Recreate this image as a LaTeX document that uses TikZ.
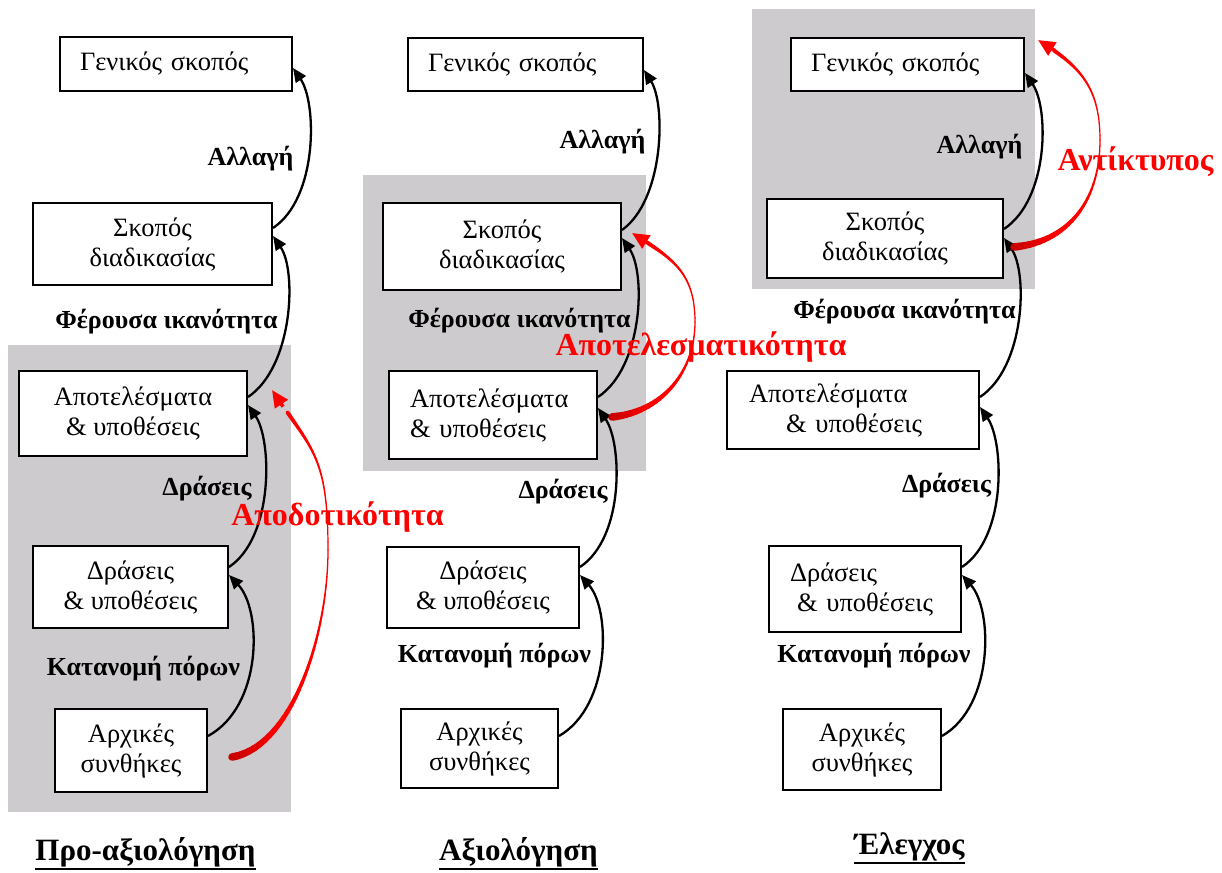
\documentclass[tikz,border=0pt]{standalone}
\usepackage{fontspec}
\setmainfont{Liberation Serif}[BoldFont={Liberation Serif Bold}]
\usetikzlibrary{arrows.meta,calc}
\definecolor{bggray}{RGB}{205,203,205}
\newcommand\boxfont{\fontsize{26.5}{30}\selectfont}
\newcommand\lblfont{\fontsize{26}{30}\selectfont\bfseries}
\newcommand\redfont{\fontsize{32}{36}\selectfont\bfseries}
\newcommand\ttlfont{\fontsize{31}{36}\selectfont\bfseries}
\tikzset{
  bx/.style={draw, fill=white, line width=2pt, font=\boxfont, inner sep=0pt, align=center},
  lbl/.style={font=\lblfont, inner sep=0pt, anchor=base},
  rlbl/.style={font=\redfont, text=red, inner sep=0pt, anchor=base},
  ttl/.style={font=\ttlfont, inner sep=0pt, anchor=base},
  blk/.style={line width=2.3pt, -{Triangle[length=14pt,width=12pt]}},
  redtip/.style={red, line width=3.5pt, -{Triangle[length=17pt,width=15pt]}},
  bgpanel/.style={fill=bggray, draw=none},
}
\newcommand\redarc[1]{%
  \foreach \i in {0,...,29}{%
    \pgfmathsetmacro\ta{\i/30}%
    \pgfmathsetmacro\tb{(\i+1)/30}%
    \pgfmathsetmacro\tm{(\i+0.5)/30}%
    \pgfmathsetmacro\ww{1.2+6.5*(1-\tm)*sqrt(1-\tm)}%
    \pgfmathtruncatemacro\dk{min(100,78+75*\tm)}%
    \begin{pgfscope}%
    \pgfsetlinewidth{\ww pt}%
    \pgfsetroundcap
    \pgfsetstrokecolor{red!\dk!black}%
    \pgfpathcurvebetweentime{\ta}{\tb}{\pgfpointanchor{#1T}{center}}{\pgfpointanchor{#1A}{center}}{\pgfpointanchor{#1B}{center}}{\pgfpointanchor{#1M}{center}}%
    \pgfusepath{stroke}%
    \end{pgfscope}%
  }%
  \foreach \i in {0,...,29}{%
    \pgfmathsetmacro\ta{0.86*\i/30}%
    \pgfmathsetmacro\tb{0.86*(\i+1)/30}%
    \pgfmathsetmacro\tm{(\i+0.5)/30}%
    \pgfmathsetmacro\ww{1.2+2.8*\tm*\tm}%
    \begin{pgfscope}%
    \pgfsetlinewidth{\ww pt}%
    \pgfsetroundcap
    \pgfsetstrokecolor{red}%
    \pgfpathcurvebetweentime{\ta}{\tb}{\pgfpointanchor{#1M}{center}}{\pgfpointanchor{#1C}{center}}{\pgfpointanchor{#1D}{center}}{\pgfpointanchor{#1H}{center}}%
    \pgfusepath{stroke}%
    \end{pgfscope}%
  }%
  \draw[redtip] ($(#1H)!20pt!(#1D)$) -- (#1H);
}
\begin{document}
\begin{tikzpicture}[x=1pt,y=-1pt]
\useasboundingbox (0,0) rectangle (1222,872);
\fill[white] (0,0) rectangle (1222,872);
% grey panels
\path[bgpanel] (8,345) rectangle (291,812);
\path[bgpanel] (363,175) rectangle (646,471);
\path[bgpanel] (752,9) rectangle (1035,289);

% column 1
\node[bx, inner xsep=20pt, text width=192pt, align=left, minimum height=54pt] (g1) at (176,64) {Γενικός σκοπός};
\node[bx, minimum width=239pt, minimum height=82pt] (s1) at (152.5,244) {Σκοπός\\διαδικασίας};
\node[bx, minimum width=228pt, minimum height=85pt] (r1) at (133,413.5) {Αποτελέσματα\\\& υποθέσεις};
\node[bx, minimum width=195pt, minimum height=82pt] (d1) at (130.5,587) {Δράσεις\\\& υποθέσεις};
\node[bx, minimum width=152pt, minimum height=83pt] (i1) at (131,750.5) {Αρχικές\\συνθήκες};

% column 2
\node[bx, inner xsep=20pt, text width=195pt, align=left, minimum height=53pt] (g2) at (525.5,64.5) {Γενικός σκοπός};
\node[bx, minimum width=238pt, minimum height=87pt] (s2) at (502,246.5) {Σκοπός\\διαδικασίας};
\node[bx, inner xsep=21pt, text width=166pt, align=left, minimum height=88pt] (r2) at (493,415) {Αποτελέσματα\\\& υποθέσεις};
\node[bx, minimum width=192pt, minimum height=81pt] (d2) at (483,587.5) {Δράσεις\\\& υποθέσεις};
\node[bx, minimum width=157pt, minimum height=79pt] (i2) at (479.5,748.5) {Αρχικές\\συνθήκες};

% column 3
\node[bx, inner xsep=20pt, text width=193pt, align=left, minimum height=53pt] (g3) at (907.5,64.5) {Γενικός σκοπός};
\node[bx, minimum width=236pt, minimum height=79pt] (s3) at (885,238.5) {Σκοπός\\διαδικασίας};
\node[bx, inner xsep=22pt, text width=208pt, align=left, minimum height=78pt] (r3) at (853,410) {Αποτελέσματα\\\hspace*{37pt}\& υποθέσεις};
\node[bx, inner xsep=21pt, text width=150pt, align=left, minimum height=86pt] (d3) at (865,589) {Δράσεις\\\hspace*{7pt}\& υποθέσεις};
\node[bx, minimum width=158pt, minimum height=81pt] (i3) at (862,749.5) {Αρχικές\\συνθήκες};

% black arrows column 1
\draw[blk] ([yshift=16pt]s1.east) .. controls +(45,-30) and +(24,35) .. ([yshift=-4pt]g1.east);
\draw[blk] ([yshift=16.5pt]r1.east) .. controls +(45,-30) and +(24,35) .. ([yshift=8pt]s1.east);
\draw[blk] ([yshift=20pt]d1.east) .. controls +(45,-30) and +(24,35) .. ([yshift=8.5pt]r1.east);
\draw[blk] ([yshift=14.5pt]i1.east) .. controls +(55,-30) and +(33,35) .. ([yshift=12pt]d1.east);
% column 2
\draw[blk] ([yshift=16.5pt]s2.east) .. controls +(42,-30) and +(22,35) .. ([yshift=-5.5pt]g2.east);
\draw[blk] ([yshift=18pt]r2.east) .. controls +(45,-30) and +(24,35) .. ([yshift=8.5pt]s2.east);
\draw[blk] ([yshift=20.5pt]d2.east) .. controls +(45,-30) and +(24,35) .. ([yshift=7pt]r2.east);
\draw[blk] ([yshift=12.5pt]i2.east) .. controls +(52,-30) and +(31,35) .. ([yshift=12.5pt]d2.east);
% column 3
\draw[blk] ([yshift=9.5pt]s3.east) .. controls +(45,-30) and +(24,35) .. ([yshift=-8.5pt]g3.east);
\draw[blk] ([yshift=13pt]r3.east) .. controls +(45,-30) and +(24,35) .. ([yshift=0.5pt]s3.east);
\draw[blk] ([yshift=22pt]d3.east) .. controls +(45,-30) and +(24,35) .. ([yshift=3pt]r3.east);
\draw[blk] ([yshift=13.5pt]i3.east) .. controls +(52,-30) and +(31,35) .. ([yshift=14pt]d3.east);

% red arrows
\coordinate (pT) at (232,757); \coordinate (pA) at (292,747); \coordinate (pB) at (328,635);
\coordinate (pM) at (328,550); \coordinate (pC) at (328,455); \coordinate (pD) at (312,450);
\coordinate (pH) at (272,390);
\coordinate (qT) at (612,417); \coordinate (qA) at (662,412); \coordinate (qB) at (695,372);
\coordinate (qM) at (695,322); \coordinate (qC) at (695,272); \coordinate (qD) at (672,258);
\coordinate (qH) at (632,233);
\coordinate (wT) at (1014,247); \coordinate (wA) at (1069,242); \coordinate (wB) at (1100,200);
\coordinate (wM) at (1100,140); \coordinate (wC) at (1100,85); \coordinate (wD) at (1078,65);
\coordinate (wH) at (1038,40);
\redarc{p}
\redarc{q}
\redarc{w}

% labels
\node[lbl] (la1) at (250.5,165) {Αλλαγή};
\node[lbl] (lf1) at (166.5,328) {Φέρουσα ικανότητα};
\node[lbl] (ld1) at (207,495) {Δράσεις};
\node[lbl] (lk1) at (143.5,675) {Κατανομή πόρων};
\node[lbl] (la2) at (602.5,148) {Αλλαγή};
\node[lbl] (lf2) at (519.5,327) {Φέρουσα ικανότητα};
\node[lbl] (ld2) at (563,498) {Δράσεις};
\node[lbl] (lk2) at (494.5,662) {Κατανομή πόρων};
\node[lbl] (la3) at (979.5,153) {Αλλαγή};
\node[lbl] (lf3) at (904.5,318) {Φέρουσα ικανότητα};
\node[lbl] (ld3) at (946.5,492) {Δράσεις};
\node[lbl] (lk3) at (874,662) {Κατανομή πόρων};

\node[rlbl] (rl1) at (337.5,525) {Αποδοτικότητα};
\node[rlbl] (rl2) at (701,355) {Αποτελεσματικότητα};
\node[rlbl] (rl3) at (1135.5,170) {Αντίκτυπος};

% titles
\node[ttl] (t1) at (145.5,860) {Προ-αξιολόγηση};
\node[ttl] (t2) at (518.5,860) {Αξιολόγηση};
\node[ttl] (t3) at (909.5,854) {Έλεγχος};
\draw[line width=2.5pt] ([yshift=-9pt]t1.base west) -- ([yshift=-9pt]t1.base east);
\draw[line width=2.5pt] ([yshift=-9pt]t2.base west) -- ([yshift=-9pt]t2.base east);
\draw[line width=2.5pt] ([yshift=-9pt]t3.base west) -- ([yshift=-9pt]t3.base east);
\end{tikzpicture}
\end{document}
